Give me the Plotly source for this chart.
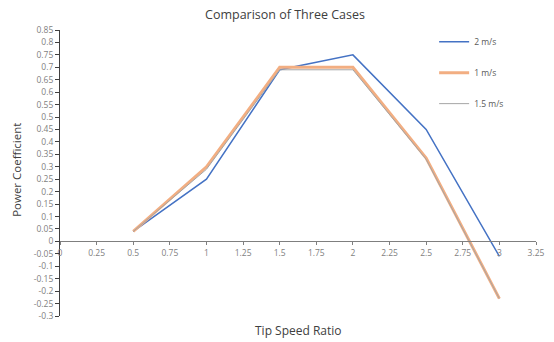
import plotly.graph_objects as go

tsr = [0.5, 1, 1.5, 2, 2.5, 3]
cp_2 = [0.04, 0.25, 0.69, 0.75, 0.45, -0.06]
cp_1 = [0.04, 0.30, 0.70, 0.70, 0.335, -0.23]
cp_15 = [0.04, 0.29, 0.69, 0.69, 0.33, -0.23]
names = ["2 m/s", "1 m/s", "1.5 m/s"]

x_ticks = [0, 0.25, 0.5, 0.75, 1, 1.25, 1.5, 1.75, 2, 2.25, 2.5, 2.75, 3, 3.25]
x_labels = ["0", "0.25", "0.5", "0.75", "1", "1.25", "1.5", "1.75", "2", "2.25", "2.5", "2.75", "3", "3.25"]
y_ticks = [round(-0.3 + 0.05 * i, 2) for i in range(24)]
y_labels = [("%g" % v) for v in y_ticks]

fig = go.Figure()
fig.add_trace(go.Scatter(x=tsr, y=cp_2, mode="lines", name=names[0],
                         line=dict(color="#4472C4", width=1.5), legendgroup="a"))
fig.add_trace(go.Scatter(x=tsr, y=cp_1, mode="lines", name=names[1],
                         line=dict(color="#F2AE82", width=3), legendgroup="b"))
fig.add_trace(go.Scatter(x=tsr, y=cp_15, mode="lines", name=names[2],
                         line=dict(color="#A5A5A5", width=1), legendgroup="c"))

y0 = 0.3 / 1.15
fig.update_layout(
    width=554, height=342,
    margin=dict(l=60, r=9, t=30, b=26),
    paper_bgcolor="white", plot_bgcolor="white",
    font=dict(family="Open Sans, DejaVu Sans, sans-serif", color="#595959", size=8),
    title=dict(text="Comparison of Three Cases", x=285 / 554, xref="container", xanchor="center",
               y=1 - 15 / 342, yref="container", yanchor="middle",
               font=dict(size=12.5, color="#404040")),
    showlegend=True,
    legend=dict(x=0.786, y=1.01, xanchor="left", yanchor="top", tracegroupgap=12,
                bgcolor="rgba(0,0,0,0)", font=dict(size=8.5, color="#595959")),
    xaxis=dict(range=[0, 3.25], tickvals=x_ticks, ticktext=x_labels,
               showgrid=False, zeroline=False, showline=True, linecolor="#7f7f7f",
               linewidth=1, ticks="outside", ticklen=3, tickcolor="#7f7f7f",
               anchor="free", position=y0, tickfont=dict(size=8.5, color="#7f7f7f")),
    yaxis=dict(range=[-0.3, 0.85], tickvals=y_ticks, ticktext=y_labels,
               showgrid=False, zeroline=False, showline=True, linecolor="#404040",
               linewidth=1, ticks="outside", ticklen=4, tickcolor="#404040",
               tickfont=dict(size=8.5, color="#7f7f7f")),
)
fig.add_annotation(text="Power Coefficient", xref="paper", yref="paper",
                   x=-0.093, y=0.51, xanchor="center", yanchor="middle", textangle=-90,
                   showarrow=False, font=dict(size=11.5, color="#404040"))
fig.add_annotation(text="Tip Speed Ratio", xref="paper", yref="paper",
                   x=0.5, y=-14 / 286, xanchor="center", yanchor="middle",
                   showarrow=False, font=dict(size=12, color="#404040"))
fig.write_html("out.html")
